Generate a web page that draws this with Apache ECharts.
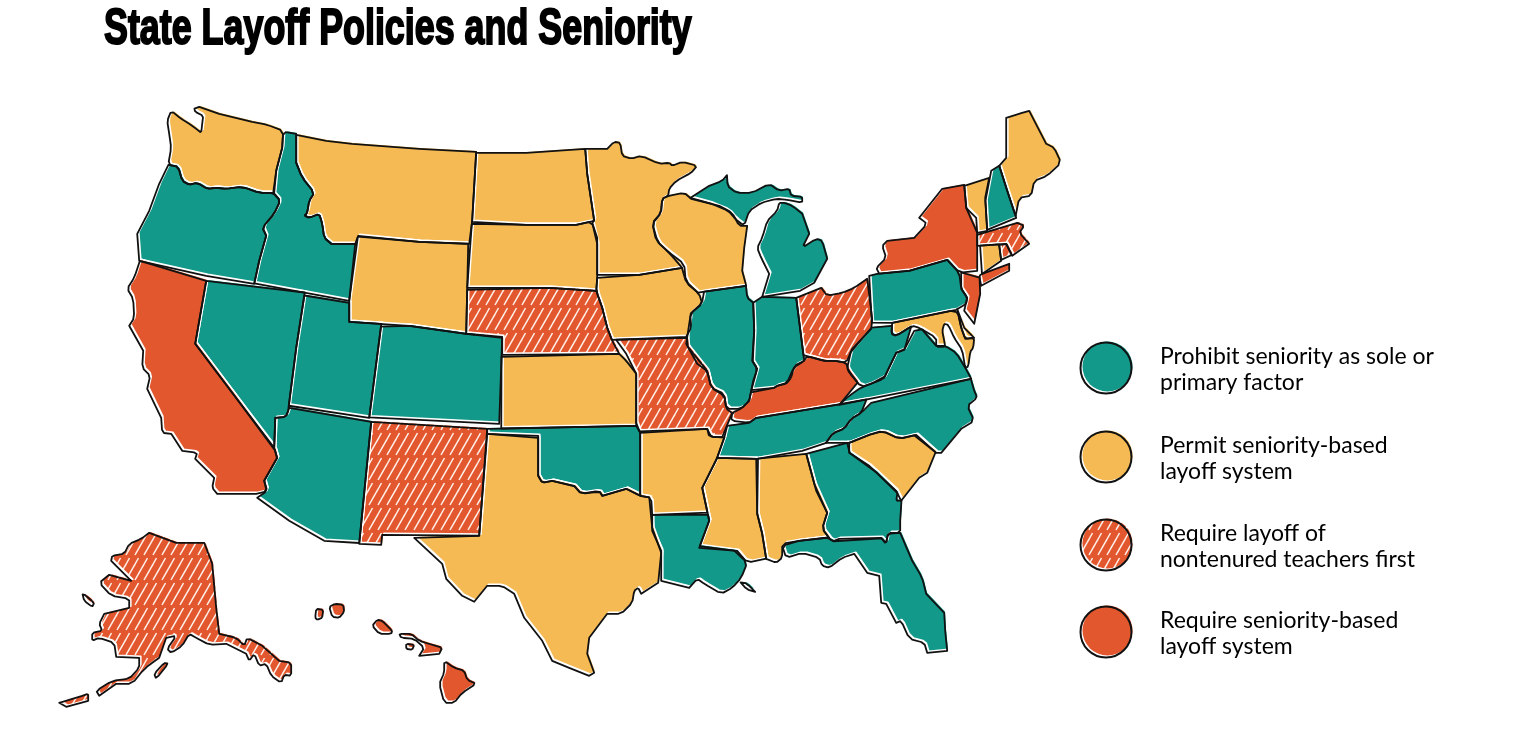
<!DOCTYPE html>
<html>
<head>
<meta charset="utf-8">
<title>State Layoff Policies and Seniority</title>
<style>
  html, body { margin: 0; padding: 0; background: #fff; }
  #main { width: 1522px; height: 744px; }
</style>
<script src="https://cdn.jsdelivr.net/npm/echarts@6/dist/echarts.min.js"></script>
</head>
<body>
<div id="main"></div>
<script>
const titleText = 'State Layoff Policies and Seniority';
const policyNames = [
  'Prohibit seniority as sole or\nprimary factor',
  'Permit seniority-based\nlayoff system',
  'Require layoff of\nnontenured teachers first',
  'Require seniority-based\nlayoff system'
];
const prohibitStates = ['OR','ID','NV','UT','CO','AZ','OK','LA','IL','IN','MI','PA','WV','VA','TN','NC','GA','FL','NH'];
const permitStates = ['WA','MT','WY','ND','SD','MN','IA','WI','KS','AR','TX','MS','AL','SC','MD','DE','VT','ME','CT'];
const nontenuredStates = ['NE','MO','NM','OH','AK','MA','RI'];
const seniorityStates = ['CA','NY','NJ','KY','HI'];
// too small to survive the corner rounding
const sharpStates = ['CT','RI','DE','VT','NH','NJ'];

// no map file in the sandbox, so the outlines are traced off the picture (x,y per vertex)
const stateShapes = {
  WA: ['172,110 182,118 190,123 197,128 202,132 203,123 204,115 196,111 195,107 200,106 220,113 253,121 268,124 284,130 283,147 277,170 274,192 260,192 243,186 227,188 217,187 208,188 198,182 190,184 183,180 179,166 169,164 172,147 170,133 168,120'],
  OR: ['169,165 179,166 183,180 190,184 198,182 208,188 217,187 227,188 243,186 260,192 274,193 281,200 275,213 263,227 267,235 260,260 255,283 207,275 140,260 138,233 150,210 160,183'],
  ID: ['286,131 297,133 297,162 303,177 315,192 310,200 308,212 305,215 310,217 320,213 323,223 325,237 332,243 356,243 350,300 257,283 262,260 268,235 264,227 277,213 282,200 276,192 278,170 285,147'],
  MT: ['298,134 327,140 353,143 420,148 477,151 473,220 470,243 420,241 359,235 357,243 332,243 325,237 323,223 320,213 310,217 305,215 308,212 310,200 315,192 303,177 297,162'],
  WY: ['359,236 420,242 469,244 467,333 410,325 380,323 350,321 351,300'],
  ND: ['477,152 527,152 586,148 588,173 595,220 577,224 527,224 473,221'],
  SD: ['473,223 527,225 577,225 593,223 598,237 598,277 597,290 550,287 470,287'],
  NE: ['470,289 550,289 597,291 603,307 608,327 613,340 620,353 503,354 503,336 469,333'],
  MN: ['587,148 608,148 615,141 621,142 623,155 632,158 642,155 660,163 670,162 673,165 683,161 698,165 692,172 677,180 670,188 669,195 663,198 662,212 653,222 657,240 670,252 683,267 640,274 599,274 599,243 593,223 596,218 588,173'],
  IA: ['599,277 640,276 683,269 687,282 700,293 703,303 691,313 692,327 687,336 613,339 608,327 603,307 598,290'],
  WI: ['670,198 685,192 692,198 720,205 733,212 740,225 748,225 745,247 743,270 747,285 700,290 688,280 685,263 670,250 658,242 653,223 662,213 663,198'],
  MI: [
    '692,196 710,185 723,180 729,173 728,185 737,192 753,192 770,183 780,190 790,188 792,195 803,196 803,202 788,199 777,198 762,202 750,210 745,223 738,218 730,208 713,202',
    '785,202 793,205 803,213 810,233 803,247 817,238 823,240 828,258 815,282 801,290 763,296 770,273 762,257 758,247 763,237 768,220 778,210 780,202'
  ],
  IL: ['705,292 747,287 748,297 754,302 755,330 753,360 758,368 754,380 750,400 742,408 727,408 725,393 712,387 708,370 698,363 687,343 692,313 704,302'],
  IN: ['756,300 763,297 797,297 805,360 795,365 792,377 787,383 778,385 775,387 755,390 759,368 755,360 757,330'],
  OH: ['798,297 822,287 828,295 843,292 855,287 868,278 873,318 872,328 853,348 847,362 835,360 825,360 807,354'],
  PA: ['870,275 878,273 910,270 948,259 960,272 962,288 968,297 967,303 957,309 893,322 874,322'],
  NY: [
    '877,267 887,257 883,245 888,240 915,237 928,223 920,217 943,188 965,184 967,207 978,232 978,270 962,270 948,257 910,268 880,273',
    '983,273 1010,263 1010,270 982,285 980,275'
  ],
  NJ: ['962,272 979,277 981,293 975,323 965,310 968,297 962,288'],
  VT: ['966,185 990,177 986,197 988,230 979,232 977,217 968,207'],
  NH: ['992,170 1000,165 1008,190 1017,217 990,229 988,200'],
  ME: ['1000,163 1007,157 1007,117 1020,113 1030,110 1047,143 1055,147 1062,162 1048,175 1035,180 1032,195 1020,197 1017,215 1008,188'],
  MA: ['980,234 1018,222 1025,225 1020,232 1030,243 1013,255 1007,243 980,245'],
  CT: ['981,246 1000,245 1002,260 982,272'],
  RI: ['1000,244 1008,243 1013,254 1003,259'],
  DE: ['959,310 965,327 975,337 966,338 962,327'],
  MD: ['893,324 952,313 957,312 962,327 966,339 976,338 974,347 971,351 969,366 966,367 963,349 955,337 949,324 945,323 943,330 945,340 946,346 937,346 937,337 920,327 913,325 897,335 892,333'],
  VA: ['840,404 850,395 863,386 880,380 885,377 897,352 905,349 915,330 923,328 937,345 947,345 957,352 965,367 972,378'],
  WV: ['848,367 853,352 873,327 893,325 892,335 897,336 913,327 905,348 895,350 885,375 873,380 862,386 850,372'],
  KY: ['732,420 733,412 743,408 751,400 754,392 775,388 778,385 788,382 795,367 805,360 808,355 825,362 835,360 847,363 847,370 857,383 840,403 757,417 750,422'],
  TN: ['728,425 750,423 757,418 837,406 868,402 862,412 852,418 845,428 834,432 827,442 803,450 758,458 718,457 725,437'],
  NC: ['872,402 972,380 975,390 978,397 968,405 975,420 962,428 942,452 937,452 917,434 900,438 883,430 870,434 850,442 827,443 834,433 846,428 853,419 863,413'],
  SC: ['850,443 872,436 883,432 900,439 915,435 935,453 928,472 920,477 902,500 897,490 870,465 850,452'],
  GA: ['807,453 848,442 850,453 877,472 897,493 897,500 904,501 901,520 901,532 889,532 887,543 882,537 840,538 833,541 823,528 828,512 817,490'],
  AL: ['759,459 805,453 817,483 828,512 823,528 828,538 800,540 783,543 783,557 777,562 767,558 763,533 758,513'],
  FL: ['783,545 800,542 828,539 835,542 882,538 886,543 889,533 901,533 913,560 923,577 927,593 945,612 946,630 948,650 928,652 925,642 910,638 902,620 897,622 887,603 882,602 880,575 868,572 855,553 843,557 830,567 823,565 820,557 803,552 787,557'],
  MS: ['717,459 757,459 757,513 762,533 766,558 748,562 738,550 700,547 710,520 703,487 715,463'],
  LA: [
    '653,514 708,514 710,520 700,545 735,549 747,565 742,577 733,587 722,593 705,583 698,578 690,587 662,580 662,550 653,530',
    '740,580 748,583 758,593 747,588'
  ],
  AR: ['641,432 708,428 710,436 723,436 717,458 703,487 707,512 653,512 652,497 641,495'],
  OK: ['488,428 637,425 639,432 641,495 627,488 603,495 600,490 582,493 575,485 553,480 543,482 539,475 539,435 488,433'],
  TX: ['487,436 537,437 538,475 543,482 553,480 575,486 582,494 600,491 603,496 627,488 640,497 650,497 653,527 662,552 659,582 642,593 639,587 635,590 633,602 622,613 608,613 590,637 588,653 595,672 590,675 570,667 553,660 543,640 525,617 515,593 503,585 488,585 475,601 463,595 447,578 443,563 415,537 480,535'],
  NM: ['372,421 487,427 481,535 383,534 382,544 360,543'],
  AZ: ['290,407 370,419 360,538 358,542 325,540 290,520 258,497 268,490 265,480 278,457 275,447 276,417 287,416'],
  NV: ['207,280 305,295 297,347 288,410 286,415 276,416 273,447 233,392 196,343'],
  UT: ['307,295 350,302 350,322 382,325 370,417 290,405 298,347'],
  CO: ['383,326 410,327 467,335 502,337 500,423 373,417'],
  KS: ['503,356 620,354 627,360 637,373 637,422 502,425'],
  MO: ['617,341 687,337 687,347 708,370 712,387 725,395 725,410 732,412 723,435 712,435 708,428 641,430 638,422 638,373 627,353'],
  CA: ['140,263 206,278 196,343 233,392 275,450 277,457 265,480 267,490 257,493 218,493 213,487 215,477 196,458 198,452 183,450 172,433 163,432 162,417 148,388 151,375 143,367 144,350 130,325 135,317 134,298 128,288 135,277'],
  AK: [
    '150,532 177,542 205,542 213,563 217,607 220,633 237,637 245,645 248,637 263,645 280,660 292,662 292,675 285,674 282,682 272,675 267,663 260,665 255,653 250,660 247,653 227,643 210,644 197,637 190,633 183,645 172,652 168,648 177,635 167,637 160,657 145,668 133,683 117,683 100,695 97,690 113,680 130,678 140,667 140,657 117,656 115,642 100,637 93,640 93,632 103,630 100,623 105,613 130,607 130,598 112,595 100,582 110,574 132,580 112,560 113,555 125,553 130,543 142,538',
    '60,702 83,695 89,693 89,700 67,706',
    '165,662 169,663 157,678 155,673',
    '83,592 95,602 93,606 85,600'
  ],
  HI: [
    '317,608 324,609 323,617 318,619 316,617',
    '330,606 336,603 344,604 345,611 340,617 333,616',
    '378,619 383,620 393,630 392,633 380,633 373,625',
    '400,633 412,633 420,640 433,644 443,647 440,653 420,655 425,647 415,638 402,637',
    '407,643 415,644 413,649 407,648',
    '445,660 455,667 465,670 468,679 477,683 463,692 455,702 445,702 440,683 445,672'
  ]
};

const teal = '#13998A';
const yellow = '#F5BA54';
const orange = '#E2572E';

// hatch fill, short slanted strokes in rows
function makeHatch() {
  const tile = document.createElement('canvas');
  tile.width = 9;
  tile.height = 25;
  const ctx = tile.getContext('2d');
  ctx.fillStyle = orange;
  ctx.fillRect(0, 0, 9, 25);
  ctx.strokeStyle = '#FFF1EA';
  ctx.lineWidth = 1.5;
  [-25, 0].forEach(function (dy) {
    for (let x = -27; x <= 27; x += 9) {
      ctx.beginPath();
      ctx.moveTo(x, dy + 30);
      ctx.lineTo(x + 12.5, dy + 8);
      ctx.stroke();
    }
  });
  return { image: tile, repeat: 'repeat' };
}
const hatch = makeHatch();
const policyFills = [teal, yellow, hatch, orange];
const policyStates = [prohibitStates, permitStates, nontenuredStates, seniorityStates];

function toRing(text) {
  return text.split(' ').map(function (p) { return p.split(',').map(Number); });
}

// pull a vertex onto a neighbour's edge when it is close, so shared borders draw as one line
function nearestOnSegment(p, a, b) {
  const dx = b[0] - a[0], dy = b[1] - a[1];
  let t = ((p[0] - a[0]) * dx + (p[1] - a[1]) * dy) / (dx * dx + dy * dy || 1);
  t = Math.max(0, Math.min(1, t));
  return [a[0] + t * dx, a[1] + t * dy];
}
function snapBorders(shapes, limit) {
  const done = [];
  Object.keys(shapes).forEach(function (code) {
    shapes[code].forEach(function (ring) {
      ring.forEach(function (p, i) {
        let best = null, bestDist = limit;
        done.forEach(function (other) {
          other.forEach(function (r) {
            r.forEach(function (a, j) {
              const q = nearestOnSegment(p, a, r[(j + 1) % r.length]);
              const d = Math.hypot(q[0] - p[0], q[1] - p[1]);
              if (d < bestDist) { bestDist = d; best = q; }
            });
          });
        });
        if (best) ring[i] = best;
      });
    });
    done.push(shapes[code]);
  });
}

// round off only the wiggly bits, long straight borders keep their corners
function softenRing(ring) {
  const out = [];
  ring.forEach(function (p, i) {
    const prev = ring[(i - 1 + ring.length) % ring.length];
    const next = ring[(i + 1) % ring.length];
    const a = Math.hypot(p[0] - prev[0], p[1] - prev[1]);
    const b = Math.hypot(next[0] - p[0], next[1] - p[1]);
    if (a < 20 && b < 20) {
      out.push([p[0] + (prev[0] - p[0]) * 0.2, p[1] + (prev[1] - p[1]) * 0.2]);
      out.push([p[0] + (next[0] - p[0]) * 0.2, p[1] + (next[1] - p[1]) * 0.2]);
    } else {
      out.push(p);
    }
  });
  return out;
}

const parsedShapes = {};
Object.keys(stateShapes).forEach(function (code) {
  parsedShapes[code] = stateShapes[code].map(toRing);
});
snapBorders(parsedShapes, 3.5);

let minX = Infinity, minY = Infinity, maxX = -Infinity, maxY = -Infinity;
const features = Object.keys(parsedShapes).map(function (code) {
  const rings = parsedShapes[code].map(function (ring) {
    const soft = sharpStates.indexOf(code) >= 0 ? ring.slice() : softenRing(ring);
    soft.push(soft[0]);
    return soft;
  });
  rings.forEach(function (ring) {
    ring.forEach(function (p) {
      minX = Math.min(minX, p[0]); maxX = Math.max(maxX, p[0]);
      minY = Math.min(minY, p[1]); maxY = Math.max(maxY, p[1]);
    });
  });
  return {
    type: 'Feature',
    properties: { name: code },
    geometry: { type: 'MultiPolygon', coordinates: rings.map(function (r) { return [r]; }) }
  };
});
echarts.registerMap('states', { type: 'FeatureCollection', features: features });

const flat = {
  project: function (p) { return p; },
  unproject: function (p) { return p; }
};

const mapData = [];
policyStates.forEach(function (list, i) {
  list.forEach(function (code) {
    mapData.push({
      name: code,
      value: i,
      itemStyle: { areaColor: policyFills[i] }
    });
  });
});

// legend is drawn by hand since the outline sits off the fill
const legendCenters = [[1106, 368], [1106, 457], [1106, 545], [1106, 632]];
const legendGraphics = [];
policyNames.forEach(function (name, i) {
  const c = legendCenters[i];
  legendGraphics.push({
    type: 'circle', silent: true,
    shape: { cx: c[0] + 1.5, cy: c[1] - 1.5, r: 25 },
    style: { fill: policyFills[i] }
  });
  legendGraphics.push({
    type: 'circle', silent: true,
    shape: { cx: c[0], cy: c[1], r: 25.5 },
    style: { fill: 'none', stroke: '#111', lineWidth: 2 }
  });
  legendGraphics.push({
    type: 'text', silent: true,
    left: 1160, top: c[1] - 25,
    style: { text: name, fill: '#000', font: '23px Lato', lineHeight: 26.5 }
  });
});

const chart = echarts.init(document.getElementById('main'));
const option = {
  backgroundColor: '#fff',
  animation: false,
  tooltip: { show: false },
  geo: {
    map: 'states',
    projection: flat,
    silent: true,
    z: 10,
    left: minX - 0.8,
    top: minY + 0.8,
    width: maxX - minX,
    height: maxY - minY,
    itemStyle: { areaColor: 'transparent', borderColor: '#111', borderWidth: 1.8, borderJoin: 'round' },
    emphasis: { disabled: true },
    label: { show: false }
  },
  series: [{
    type: 'map',
    map: 'states',
    projection: flat,
    silent: true,
    selectedMode: false,
    left: minX + 0.8,
    top: minY - 0.8,
    width: maxX - minX,
    height: maxY - minY,
    data: mapData,
    label: { show: false },
    itemStyle: { borderColor: '#fff', borderWidth: 1.6, borderJoin: 'round' },
    emphasis: { disabled: true }
  }],
  graphic: legendGraphics.concat([{
    type: 'text', silent: true,
    x: 104, y: 5,
    scaleX: 0.717,
    style: {
      text: titleText, fill: '#000', stroke: '#000', lineWidth: 2,
      font: 'bold 50px "Liberation Sans"'
    }
  }])
};
chart.setOption(option);
window.addEventListener('resize', function () {
  chart.resize();
});
</script>
</body>
</html>
